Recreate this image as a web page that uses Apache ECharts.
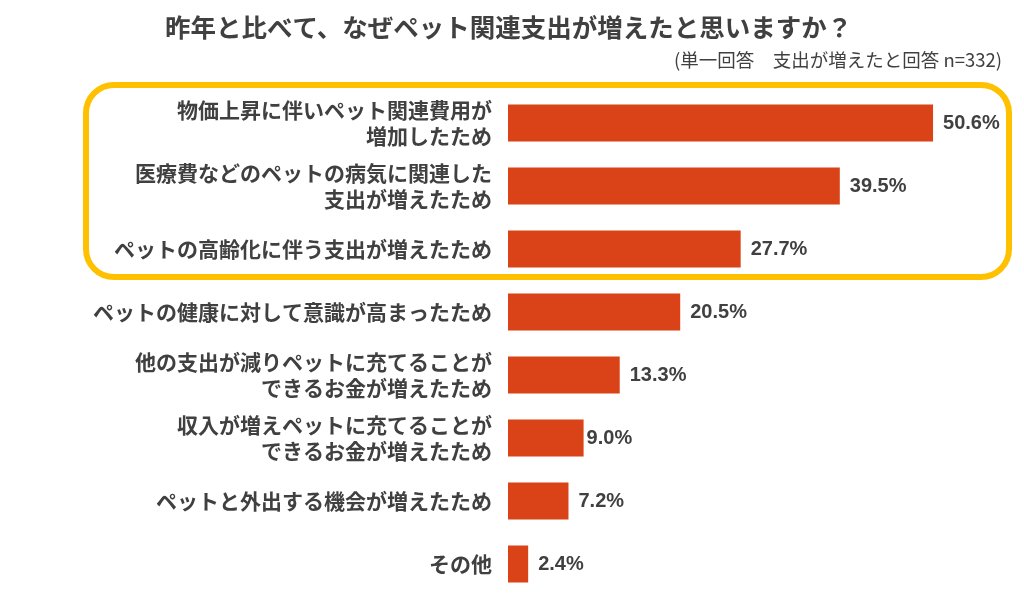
<!DOCTYPE html>
<html>
<head>
<meta charset="utf-8">
<script src="https://cdn.jsdelivr.net/npm/echarts@6/dist/echarts.min.js"></script>
<style>
html,body{margin:0;padding:0;background:#fff;}
#chart{width:1024px;height:597px;}
</style>
</head>
<body>
<div id="chart"></div>
<script>
const titleText = '昨年と比べて、なぜペット関連支出が増えたと思いますか？';
const subtitleText = '(単一回答　支出が増えたと回答 n=332)';
const categories = [
  '物価上昇に伴いペット関連費用が\n増加したため',
  '医療費などのペットの病気に関連した\n支出が増えたため',
  'ペットの高齢化に伴う支出が増えたため',
  'ペットの健康に対して意識が高まったため',
  '他の支出が減りペットに充てることが\nできるお金が増えたため',
  '収入が増えペットに充てることが\nできるお金が増えたため',
  'ペットと外出する機会が増えたため',
  'その他'
];
const values = [50.6, 39.5, 27.7, 20.5, 13.3, 9.0, 7.2, 2.4];

const chart = echarts.init(document.getElementById('chart'));
const textColor = '#404040';
const barData = values.map((v, i) => i === 5 ? { value: v, label: { distance: 3 } } : v);

chart.setOption({
  animation: false,
  backgroundColor: '#ffffff',
  grid: { left: 508, right: 12, top: 91.5, bottom: 1.5, containLabel: false },
  xAxis: { type: 'value', min: 0, max: 60, show: false },
  yAxis: {
    type: 'category',
    inverse: true,
    data: categories,
    axisLine: { show: false },
    axisTick: { show: false },
    splitLine: { show: false },
    axisLabel: {
      margin: 16,
      align: 'right',
      fontSize: 21,
      fontWeight: 'bold',
      lineHeight: 26,
      color: textColor,
      fontFamily: '"Noto Sans CJK JP", sans-serif'
    }
  },
  series: [{
    type: 'bar',
    data: barData,
    barWidth: 37,
    itemStyle: { color: '#D94317' },
    label: {
      show: true,
      position: 'right',
      distance: 10,
      formatter: p => p.value.toFixed(1) + '%',
      fontSize: 20,
      fontWeight: 'bold',
      color: textColor,
      fontFamily: '"Liberation Sans", Arial, sans-serif'
    }
  }],
  graphic: [
    {
      type: 'rect',
      z: -1,
      shape: { x: 86, y: 85, width: 923, height: 192, r: 28 },
      style: { fill: 'none', stroke: '#FFC000', lineWidth: 6 }
    },
    {
      type: 'text',
      x: 165, y: 27.5,
      style: {
        text: titleText,
        fontSize: 25.5,
        fontWeight: 'bold',
        fill: textColor,
        fontFamily: '"Noto Sans CJK JP", sans-serif',
        textAlign: 'left',
        textVerticalAlign: 'middle'
      }
    },
    {
      type: 'text',
      x: 1002, y: 60,
      style: {
        text: subtitleText,
        fontSize: 18.5,
        fontWeight: 'normal',
        fill: textColor,
        fontFamily: '"Noto Sans CJK JP", sans-serif',
        textAlign: 'right',
        textVerticalAlign: 'middle'
      }
    }
  ]
});
</script>
</body>
</html>
